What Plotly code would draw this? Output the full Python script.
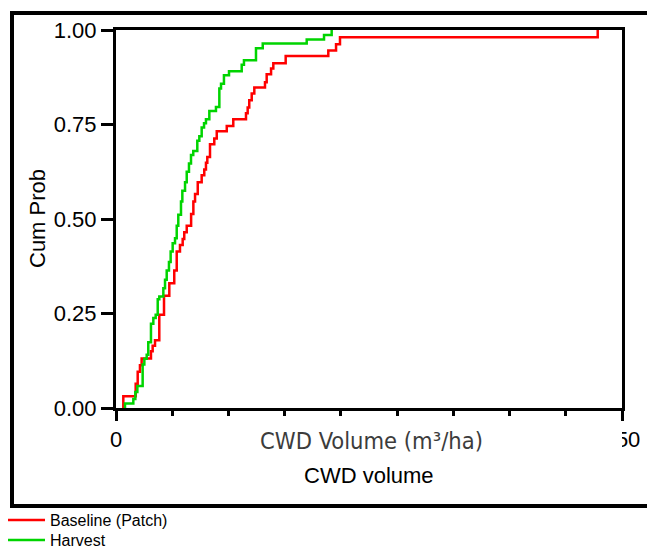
import plotly.graph_objects as go

# ---------------- data ----------------
series_names = ["Baseline (Patch)", "Harvest"]

baseline_x = [6.5, 6.5, 17.5, 19.3, 21.3, 22.8, 31.1, 32.6, 34.7, 38.5,
              42.7, 47.4, 51.8, 54.0, 56.9, 59.3, 60.7, 62.9, 66.8, 68.8,
              70.3, 72.7, 76.2, 78.5, 80.0, 81.2, 83.6, 87.4, 89.6, 98.5,
              104.3, 115.6, 117.1, 118.5, 120.7, 123.0, 132.5, 134.0, 137.9, 139.9,
              150.9, 188.8, 195.7, 199.2, 428.4]
baseline_p = [0, 0.031, 0.064, 0.096, 0.113, 0.131, 0.150, 0.165, 0.179, 0.247,
              0.297, 0.330, 0.364, 0.414, 0.431, 0.447, 0.465, 0.482, 0.513, 0.546,
              0.566, 0.597, 0.616, 0.631, 0.649, 0.664, 0.698, 0.713, 0.732, 0.746,
              0.764, 0.780, 0.795, 0.814, 0.832, 0.848, 0.862, 0.883, 0.898, 0.912,
              0.931, 0.946, 0.962, 0.981, 1.0]

harvest_x = [8.0, 8.0, 15.4, 17.2, 19.0, 23.7, 25.2, 27.3, 28.7, 31.1,
             33.2, 35.3, 37.1, 38.5, 42.1, 43.6, 45.1, 47.1, 48.6, 50.4,
             52.5, 54.0, 55.4, 57.8, 59.0, 61.4, 62.9, 64.9, 66.7, 68.7,
             72.3, 74.1, 76.2, 78.3, 80.0, 83.0, 88.9, 91.9, 93.4, 96.0,
             100.5, 111.8, 113.8, 124.5, 130.5, 169.6, 185.0, 191.8]
harvest_p = [0, 0.012, 0.024, 0.042, 0.058, 0.115, 0.130, 0.141, 0.174, 0.223,
             0.238, 0.247, 0.288, 0.295, 0.317, 0.339, 0.364, 0.386, 0.414, 0.436,
             0.449, 0.482, 0.511, 0.546, 0.575, 0.597, 0.625, 0.647, 0.669, 0.680,
             0.707, 0.719, 0.742, 0.753, 0.764, 0.786, 0.796, 0.845, 0.858, 0.880,
             0.891, 0.908, 0.920, 0.952, 0.964, 0.975, 0.987, 1.0]

x_range = [0, 450]
x_minor_step = 50
x_tickvals = [0, 450]
x_ticktext = ["0", "450"]
y_tickvals = [0, 0.25, 0.5, 0.75, 1.0]
y_ticktext = ["0.00", "0.25", "0.50", "0.75", "1.00"]

x_title_gray = "CWD Volume (m³/ha)"
x_title = "CWD volume"
y_title = "Cum Prob"

colors = ["#FF0000", "#00D400"]

# ---------------- layout geometry ----------------
W, H = 647, 548
L, R, T, B = 116, 622, 30, 408  # plot area in px


def px_x(px):
    return (px - L) / (R - L)


def px_y(py):
    return (B - py) / (B - T)


FONT = "Arial, 'Liberation Sans', sans-serif"

fig = go.Figure()
for name, xs, ps, c, lg in [(series_names[0], baseline_x, baseline_p, colors[0], "legend"),
                            (series_names[1], harvest_x, harvest_p, colors[1], "legend2")]:
    fig.add_trace(go.Scatter(x=xs, y=ps, mode="lines", name=name, legend=lg,
                             line=dict(color=c, width=2.5, shape="hv")))

axis_common = dict(showline=True, linewidth=3, linecolor="black", mirror=True,
                   showgrid=False, zeroline=False, ticks="outside",
                   tickwidth=3, tickcolor="black",
                   tickfont=dict(family=FONT, size=22, color="black"))

fig.update_xaxes(range=x_range, tickvals=x_tickvals, ticktext=x_ticktext,
                 ticklen=10,
                 minor=dict(dtick=x_minor_step, tick0=0, ticks="outside",
                            ticklen=5, tickwidth=3, tickcolor="black"),
                 **axis_common)
fig.update_yaxes(range=[0, 1], tickvals=y_tickvals, ticktext=y_ticktext,
                 ticklen=12, **axis_common)

shapes = [
    # outer frame
    dict(type="rect", xref="paper", yref="paper",
         x0=px_x(12), x1=px_x(700), y0=px_y(506), y1=px_y(13),
         line=dict(color="black", width=4), fillcolor="rgba(0,0,0,0)",
         layer="above"),
    # white box behind the grey axis caption (hides middle tick labels)
    dict(type="rect", xref="paper", yref="paper",
         x0=px_x(125), x1=px_x(R), y0=px_y(459), y1=px_y(421),
         line=dict(width=0), fillcolor="white", layer="above"),
]

annotations = [
    dict(text=x_title_gray, xref="paper", yref="paper", x=px_x(371), y=px_y(441),
         xanchor="center", yanchor="middle", showarrow=False,
         font=dict(family="'DejaVu Sans Condensed', 'DejaVu Sans', sans-serif",
                   size=23.5, color="#3c3c3c")),
    dict(text=x_title, xref="paper", yref="paper", x=px_x(369), y=px_y(475),
         xanchor="center", yanchor="middle", showarrow=False,
         font=dict(family=FONT, size=22, color="black")),
    dict(text=y_title, xref="paper", yref="paper", x=px_x(37), y=px_y(219),
         xanchor="center", yanchor="middle", showarrow=False, textangle=-90,
         font=dict(family=FONT, size=22, color="black")),
]

legend_common = dict(xref="container", yref="container", xanchor="left", yanchor="top",
                     font=dict(family=FONT, size=16, color="black"),
                     bgcolor="rgba(0,0,0,0)", borderwidth=0, itemwidth=37)

fig.update_layout(
    width=W, height=H,
    margin=dict(l=L, r=W - R, t=T, b=H - B, pad=0, autoexpand=False),
    paper_bgcolor="white", plot_bgcolor="white",
    shapes=shapes, annotations=annotations,
    showlegend=True,
    legend=dict(x=3 / W, y=1 - 503 / H, **legend_common),
    legend2=dict(x=3 / W, y=1 - 523 / H, **legend_common),
)

fig.write_html("out.html")
